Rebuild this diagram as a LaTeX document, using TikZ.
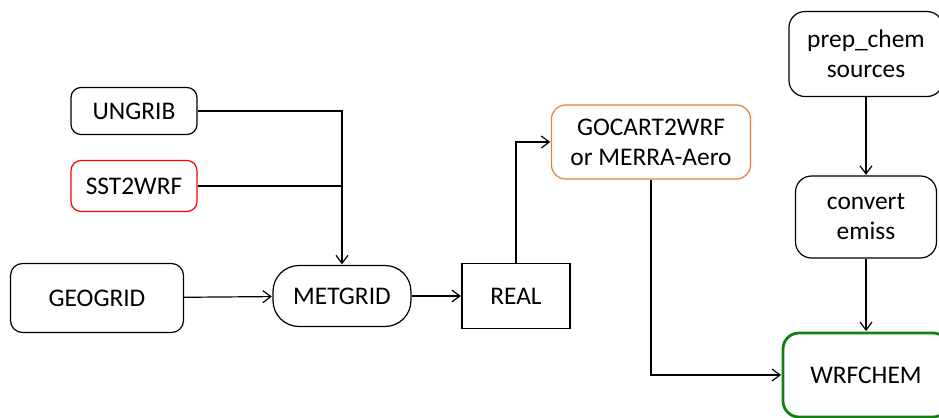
\documentclass[tikz,border=0pt]{standalone}
\usepackage{fontspec}
\setmainfont{Carlito}
\usetikzlibrary{
  arrows.meta,
  chains,
  positioning,
  scopes
}

\begin{document}
\begin{tikzpicture}[
      x=0.5pt,y=-0.5pt,
      module/.style={
         rectangle,
         rounded corners=5pt,
         draw=black,
         line width=0.6pt,
         inner sep=0pt,
         align=center,
         font=\fontsize{12.7}{15}\selectfont
      },
      plain module/.style={
         module,
         sharp corners
      },
      point/.style={coordinate},>={Straight Barb[length=4pt,width=6pt]},line width=0.6pt,
      tip/.style={->,shorten >=0.3pt},
      hv path/.style={to path={-| (\tikztotarget)}},
      vh path/.style={to path={|- (\tikztotarget)}},
    ]
    \useasboundingbox (0,0) rectangle (939,418);
    \node (ungrib) [module, minimum width=63pt, minimum height=23.5pt] at (134,111) {UNGRIB};
    \node (sst2wrf) [module, draw=red, minimum width=63pt, minimum height=25.5pt] at (134,186) {SST2WRF};
    \node (geogrid) [module, rounded corners=6pt, minimum width=86.5pt, minimum height=34.5pt] at (97,298) {GEOGRID};
    \node (metgrid) [module, rounded corners=13pt, minimum width=69pt, minimum height=30.5pt] at (342,296) {METGRID};
    \node (real) [plain module, minimum width=54pt, minimum height=32.5pt] at (516,296) {REAL};
    \node (gocart) [module, draw={rgb,255:red,237;green,125;blue,49}, rounded corners=7pt, minimum width=99.5pt, minimum height=37pt] at (651,142) {GOCART2WRF\\or MERRA-Aero};
    \node (prepchem) [module, rounded corners=8pt, minimum width=77pt, minimum height=42.5pt] at (866,54) {prep\_chem\\sources};
    \node (convemiss) [module, rounded corners=8pt, minimum width=70.5pt, minimum height=41pt] at (866,217) {convert\\emiss};
    \node (wrfchem) [module, draw={rgb,255:red,16;green,128;blue,16}, line width=1.4pt, rounded corners=8pt, minimum width=83pt, minimum height=42pt] at (866,375) {WRFCHEM};
    \node (j1) [point] at (342,186) {};
  { [start chain]
       \chainin (ungrib);
       \chainin (metgrid)    [join=by {hv path,tip}];
  }
  { [start chain]
       \chainin (sst2wrf);
       \chainin (j1)    [join];
  }
  { [start chain]
       \chainin (geogrid);
       \chainin (metgrid)    [join=by tip];
  }
  { [start chain]
       \chainin (metgrid);
       \chainin (real)    [join=by tip];
  }
  { [start chain]
       \chainin (real);
       \chainin (gocart)    [join=by {vh path,tip}];
  }
  { [start chain]
       \chainin (gocart);
       \chainin (wrfchem)    [join=by {vh path,tip}];
  }
  { [start chain]
       \chainin (prepchem);
       \chainin (convemiss)    [join=by tip];
  }
  { [start chain]
       \chainin (convemiss);
       \chainin (wrfchem)    [join=by tip];
  }
\end{tikzpicture}
\end{document}
